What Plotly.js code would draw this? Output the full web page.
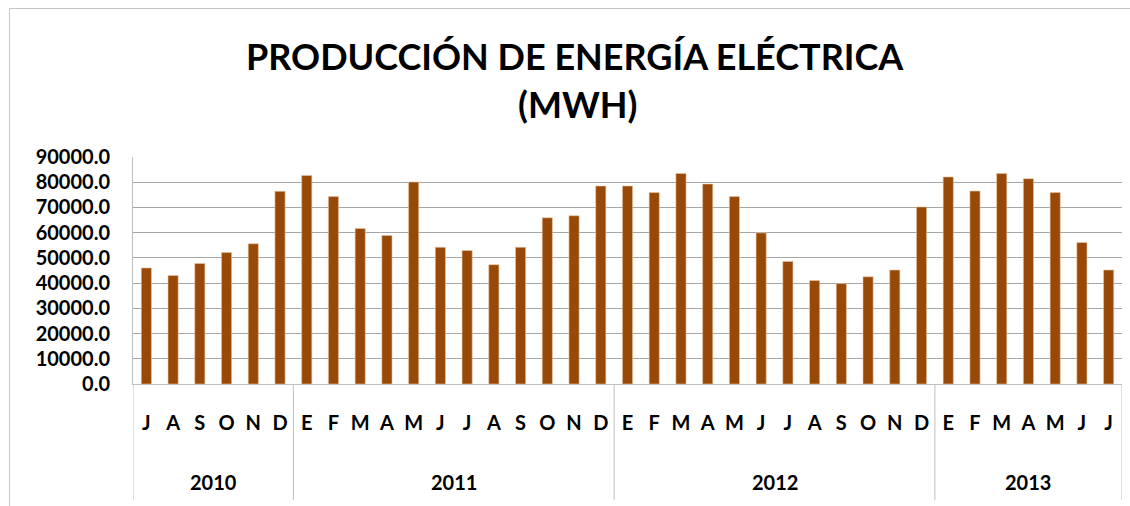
<!DOCTYPE html>
<html>
<head>
<meta charset="utf-8">
<script src="https://cdn.plot.ly/plotly-3.0.1.min.js"></script>
<style>html,body{margin:0;padding:0;background:#fff;}#chart{width:1130px;height:506px;}</style>
</head>
<body>
<div id="chart"></div>
<script>
// Data
const months = ['J','A','S','O','N','D',
  'E','F','M','A','M','J','J','A','S','O','N','D',
  'E','F','M','A','M','J','J','A','S','O','N','D',
  'E','F','M','A','M','J','J'];
const years = ['2010','2011','2012','2013'];
const yearCounts = [6, 12, 12, 7];
const produccion = [46000, 43000, 47800, 52100, 55600, 76400,
  82700, 74300, 61700, 58900, 80100, 54200, 52900, 47300, 54200, 65900, 66700, 78500,
  78500, 75900, 83500, 79300, 74300, 59900, 48600, 41000, 39800, 42500, 45200, 70200,
  82100, 76500, 83500, 81400, 75900, 56100, 45200];
const yTicks = [0, 10000, 20000, 30000, 40000, 50000, 60000, 70000, 80000, 90000];

// Layout geometry
const W = 1130, H = 506;
const mL = 133, mR = 8, mT = 157, mB = 122;
const plotW = W - mL - mR, plotH = H - mT - mB;
const px2x = p => (p - mL) / plotW;
const py2y = p => (H - mB - p) / plotH;

const FONT = 'Lato, "Open Sans", sans-serif';
const xIdx = months.map((m, i) => i);

const shapes = [];
const annotations = [];
// year group separators and year labels
let start = 0;
const bottomY = py2y(500);
shapes.push({type: 'line', xref: 'x', yref: 'paper', x0: -0.5, x1: -0.5, y0: 0, y1: bottomY,
  line: {color: '#bfbfbf', width: 1}});
years.forEach((yr, k) => {
  const n = yearCounts[k];
  const end = start + n;
  shapes.push({type: 'line', xref: 'x', yref: 'paper', x0: end - 0.5, x1: end - 0.5, y0: 0, y1: bottomY,
    line: {color: '#bfbfbf', width: 1}});
  annotations.push({xref: 'x', yref: 'paper', x: start + (n - 1) / 2, y: py2y(482),
    yanchor: 'middle', xanchor: 'center', showarrow: false, text: yr,
    font: {family: FONT, size: 20, color: '#000', weight: 700}});
  start = end;
});
// outer chart border
shapes.push({type: 'rect', xref: 'paper', yref: 'paper', x0: px2x(9.5), x1: px2x(1140), y0: py2y(520), y1: py2y(8.5),
  line: {color: '#c4c4c4', width: 1}, fillcolor: 'rgba(0,0,0,0)', layer: 'below'});

// title
annotations.push({xref: 'paper', yref: 'paper', x: px2x(575), y: py2y(56), xanchor: 'center', yanchor: 'middle',
  showarrow: false, text: 'PRODUCCIÓN DE ENERGÍA ELÉCTRICA',
  font: {family: FONT, size: 36, color: '#000', weight: 700}});
annotations.push({xref: 'paper', yref: 'paper', x: px2x(577), y: py2y(104), xanchor: 'center', yanchor: 'middle',
  showarrow: false, text: '(MWH)',
  font: {family: FONT, size: 36, color: '#000', weight: 700}});

const trace = {
  type: 'bar',
  x: xIdx,
  y: produccion,
  marker: {color: '#984807', line: {color: '#e8c8a8', width: 0.6}},
  width: 0.38,
  hoverinfo: 'y'
};

const layout = {
  width: W, height: H,
  margin: {l: mL, r: mR, t: mT, b: mB, pad: 0},
  paper_bgcolor: '#fff', plot_bgcolor: '#fff',
  showlegend: false,
  font: {family: FONT, color: '#000'},
  xaxis: {
    type: 'linear', range: [-0.5, 36.5], tickmode: 'array', tickvals: xIdx, ticktext: months,
    ticks: '', showgrid: false, zeroline: false, showline: true, linecolor: '#bfbfbf', linewidth: 1,
    tickfont: {family: FONT, size: 20, color: '#000', weight: 700}, ticklabelstandoff: 21, fixedrange: true
  },
  yaxis: {
    range: [0, 90000], tickmode: 'array', tickvals: yTicks, tickformat: '.1f',
    showgrid: true, gridcolor: '#a6a6a6', gridwidth: 1, zeroline: false,
    showline: true, linecolor: '#bfbfbf', linewidth: 1, ticks: '',
    tickfont: {family: FONT, size: 20, color: '#000', weight: 700}, ticklabelstandoff: 18, fixedrange: true
  },
  shapes: shapes,
  annotations: annotations
};

Plotly.newPlot('chart', [trace], layout, {displayModeBar: false, staticPlot: true});
</script>
</body>
</html>
